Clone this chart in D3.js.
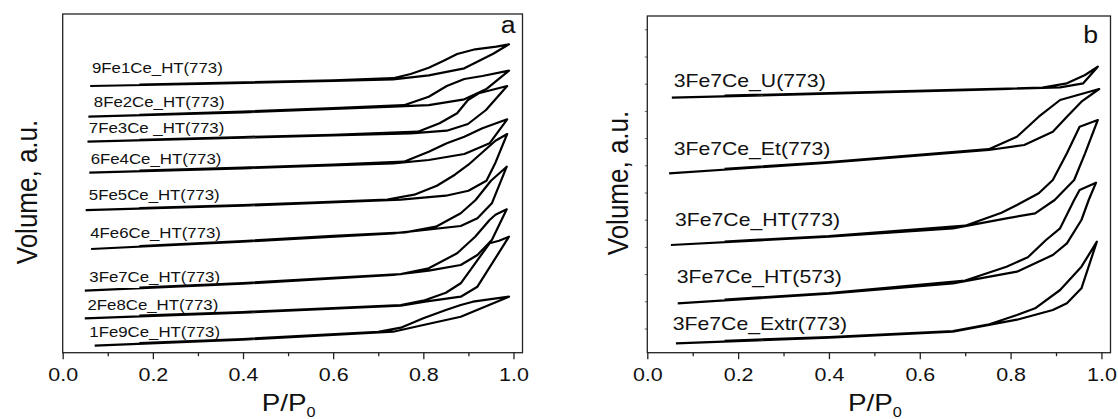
<!DOCTYPE html>
<html>
<head>
<meta charset="utf-8">
<script src="https://cdn.jsdelivr.net/npm/d3@7"></script>
<style>
  html, body { margin: 0; padding: 0; background: #fff; }
  svg { display: block; }
  text { font-family: "Liberation Sans", Arial, sans-serif; fill: #111; }
</style>
</head>
<body>
<div id="root"></div>
<script>
// ---- data: [P/P0, volume (a.u.)] ; adsorption branch then desorption branch
const namesA = ['9Fe1Ce_HT(773)', '8Fe2Ce_HT(773)', '7Fe3Ce _HT(773)', '6Fe4Ce_HT(773)', '5Fe5Ce_HT(773)',
                '4Fe6Ce_HT(773)', '3Fe7Ce_HT(773)', '2Fe8Ce_HT(773)', '1Fe9Ce_HT(773)']

const fe9Ads = [[0.061,266.7],[0.30,268.7],[0.60,271.7],[0.733,273.4],[0.812,277.4],[0.891,284.4],[0.955,299],[0.990,308.4]]
const fe9Des = [[0.962,306],[0.915,303.4],[0.875,298.7],[0.844,291.7],[0.812,285],[0.772,278.7],[0.733,274.5],[0.60,272.4],[0.30,269.4],[0.17,268.2]]
const fe8Ads = [[0.057,236],[0.40,240.4],[0.733,246],[0.812,247.5],[0.891,253.4],[0.939,263.4],[0.990,282]]
const fe8Des = [[0.931,276.7],[0.891,273.7],[0.852,266.7],[0.812,256],[0.757,247.5],[0.60,244.6],[0.40,241.1],[0.17,237.9]]
const fe7Ads = [[0.055,211],[0.40,215],[0.772,219.4],[0.852,222],[0.899,228.7],[0.939,242.7],[0.986,266.7]]
const fe7Des = [[0.923,259.4],[0.899,252.7],[0.875,239.4],[0.836,229.4],[0.788,221],[0.60,217.9],[0.40,215.7],[0.17,212.8]]
const fe6Ads = [[0.059,180],[0.40,184.4],[0.733,189.4],[0.812,192.7],[0.891,198.7],[0.947,209.4],[0.986,233.4]]
const fe6Des = [[0.931,224.4],[0.891,216],[0.852,209.4],[0.812,201],[0.757,191],[0.60,188],[0.40,185.1],[0.17,182.1]]
const fe5Ads = [[0.051,142.5],[0.40,147],[0.75,153],[0.85,157],[0.90,162],[0.94,172],[0.96,190],[0.986,218.7]]
const fe5Des = [[0.96,212],[0.93,200],[0.90,188],[0.87,178],[0.83,167],[0.78,158],[0.72,153.2],[0.55,150.2],[0.40,147.7],[0.17,144.7]]
const fe4Ads = [[0.063,103.7],[0.40,111],[0.733,119.4],[0.883,126.7],[0.920,134.4],[0.952,149.4],[0.985,186]]
const fe4Des = [[0.95,172],[0.916,152.7],[0.883,139.4],[0.828,126],[0.76,120.4],[0.60,116.8],[0.40,111.7],[0.17,106.6]]
const fe3Ads = [[0.049,62],[0.40,69],[0.733,77.7],[0.812,82],[0.883,87.7],[0.92,97.7],[0.952,112.7],[0.985,143.4]]
const fe3Des = [[0.96,138],[0.947,132.7],[0.915,116],[0.875,99.4],[0.812,84.4],[0.75,78.5],[0.60,74.9],[0.40,69.7],[0.17,65.1]]
const fe2Ads = [[0.049,34.4],[0.40,40],[0.75,47],[0.804,51],[0.883,56],[0.92,66],[0.99,116]]
const fe2Des = [[0.968,112],[0.947,109.4],[0.915,89.4],[0.883,69.4],[0.85,60],[0.80,52],[0.75,47.7],[0.40,40.7],[0.17,37]]
const fe1Ads = [[0.071,7],[0.40,13],[0.733,21],[0.80,27.7],[0.883,36],[0.99,56]]
const fe1Des = [[0.95,53.5],[0.91,51],[0.883,47.7],[0.85,42.7],[0.80,34.4],[0.75,25],[0.70,20.9],[0.40,13.7],[0.17,9.6]]

const namesB = ['3Fe7Ce_U(773)', '3Fe7Ce_Et(773)', '3Fe7Ce_HT(773)', '3Fe7Ce_HT(573)', '3Fe7Ce_Extr(773)']

const uAds = [[0.054,255],[0.40,259],[0.70,262.5],[0.909,265.4],[0.960,269.4],[0.992,286]]
const uDes = [[0.964,277.7],[0.924,269.4],[0.87,265],[0.70,263.2],[0.40,259.7],[0.17,257]]
const etAds = [[0.048,179.4],[0.40,190],[0.752,202.7],[0.83,207.7],[0.893,221],[0.924,236],[0.956,251],[0.995,263.7]]
const etDes = [[0.948,257.7],[0.909,252.7],[0.862,236],[0.814,216],[0.752,203.5],[0.40,190.7],[0.17,183.8]]
const ht773Ads = [[0.052,107.7],[0.40,116],[0.673,124.4],[0.791,134.4],[0.854,139.4],[0.897,152.7],[0.94,172.7],[0.964,199.4],[0.992,232.7]]
const ht773Des = [[0.952,226],[0.924,199.4],[0.893,172.7],[0.862,159.4],[0.814,147.7],[0.78,140],[0.70,127],[0.40,116.7],[0.17,111.2]]
const ht573Ads = [[0.067,49.4],[0.40,59],[0.673,69.4],[0.814,81],[0.893,97.7],[0.924,109.4],[0.956,132.7],[0.972,152.7],[0.988,170]]
const ht573Des = [[0.952,162.7],[0.94,152.7],[0.909,124.4],[0.878,112.7],[0.838,95.4],[0.791,86],[0.70,72.2],[0.40,59.7],[0.17,53.1]]
const extrAds = [[0.063,9.4],[0.40,15],[0.673,21],[0.814,33],[0.893,42.7],[0.924,49.4],[0.956,64.4],[0.99,111]]
const extrDes = [[0.956,86],[0.909,62.7],[0.854,44.4],[0.814,37.7],[0.75,28],[0.673,21.5],[0.40,15.7],[0.17,11.9]]

const xMajor = [0, 0.2, 0.4, 0.6, 0.8, 1.0]
const xMinor = [0.1, 0.3, 0.5, 0.7, 0.9]
const yTicksB = [24.2, 51.4, 78.6, 105.8, 133, 160.2, 187.4, 214.6, 241.8, 269, 296.2, 323.4]

// label anchors in data units (P/P0, volume)
const labelPosA = [[0.065,279.7],[0.069,245.7],[0.058,219.4],[0.062,188.4],[0.058,152.7],[0.061,115],[0.059,71],[0.055,42.7],[0.059,15.4]]
const labelPosB = [[0.058,265.4],[0.058,197.7],[0.061,126.7],[0.065,69.4],[0.056,22.7]]

const seriesA = [[fe9Ads,fe9Des],[fe8Ads,fe8Des],[fe7Ads,fe7Des],[fe6Ads,fe6Des],[fe5Ads,fe5Des],
                 [fe4Ads,fe4Des],[fe3Ads,fe3Des],[fe2Ads,fe2Des],[fe1Ads,fe1Des]]
const seriesB = [[uAds,uDes],[etAds,etDes],[ht773Ads,ht773Des],[ht573Ads,ht573Des],[extrAds,extrDes]]

const W = 1118, H = 419
const SX = 1.16  // glyphs in the figure are a bit wide

document.getElementById('root').innerHTML = `<svg width=${W} height=${H}></svg>`
let svg = d3.select('svg')

function panel(cfg) {
  let x = d3.scaleLinear().domain([0, 1.02]).range([cfg.left, cfg.right])
  let y = d3.scaleLinear().domain([0, cfg.bottom - cfg.top]).range([cfg.bottom, cfg.top])
  let g = svg.append('g')

  // minor x ticks
  g.append('g')
   .attr('transform', `translate(0,${cfg.bottom})`)
   .call(d3.axisBottom(x).tickValues(xMinor).tickSize(3.5).tickFormat(''))
   .call(a => a.select('.domain').remove())
  // major x ticks
  let ax = g.append('g')
   .attr('transform', `translate(0,${cfg.bottom})`)
   .call(d3.axisBottom(x).tickValues(xMajor).tickSize(6.5).tickFormat(d3.format('.1f')))
   .call(a => a.select('.domain').remove())
  ax.selectAll('.tick text')
    .attr('y', 28).attr('dy', null)
    .attr('transform', `scale(${SX},1)`)
    .style('font-family', '"Liberation Sans", Arial, sans-serif')
    .style('font-size', '18.5px').attr('fill', '#111')
  g.selectAll('.tick line').attr('stroke', '#222').attr('stroke-width', 1.3)

  if (cfg.yTicks) {
    g.append('g')
     .attr('transform', `translate(${cfg.left},0)`)
     .call(d3.axisLeft(y).tickValues(cfg.yTicks).tickSize(2.5).tickFormat(''))
     .call(a => a.select('.domain').remove())
     .selectAll('line').attr('stroke', '#666').attr('stroke-width', 1)
  }

  let line = d3.line().x(d => x(d[0])).y(d => y(d[1]))
  g.selectAll('path.iso')
   .data(cfg.series).enter()
   .append('path')
   .attr('class', 'iso')
   .attr('d', d => line(d[0].concat(d[1])))
   .attr('fill', 'none')
   .attr('stroke', '#000')
   .attr('stroke-width', 2.2)
   .attr('stroke-linejoin', 'round')

  g.selectAll('g.lab')
   .data(cfg.names).enter()
   .append('g')
   .attr('class', 'lab')
   .attr('transform', (d, i) => `translate(${x(cfg.labelPos[i][0])},${y(cfg.labelPos[i][1])}) scale(${SX},1)`)
   .append('text')
   .style('font-size', cfg.labelSize + 'px')
   .text(d => d)

  // frame
  g.append('rect')
   .attr('x', cfg.left).attr('y', cfg.top)
   .attr('width', cfg.right - cfg.left).attr('height', cfg.bottom - cfg.top)
   .attr('fill', 'none').attr('stroke', '#222').attr('stroke-width', 1.3)

  // panel letter
  g.append('g')
   .attr('transform', `translate(${cfg.letterX},${cfg.letterY}) scale(${SX},1)`)
   .append('text').attr('text-anchor', 'end')
   .style('font-size', '23px').text(cfg.letter)

  // x title
  let xt = g.append('g')
   .attr('transform', `translate(${(cfg.left + cfg.right) / 2 - 4},410.5) scale(${SX},1)`)
   .append('text').attr('text-anchor', 'middle').style('font-size', '24px')
  xt.append('tspan').text('P/P')
  xt.append('tspan').attr('dy', 6.5).style('font-size', '14px').text('0')

  // y title
  g.append('g')
   .attr('transform', `translate(${cfg.yTitleX},${cfg.yTitleY}) rotate(-90) scale(1,${SX})`)
   .append('text').attr('text-anchor', 'middle').style('font-size', '26px')
   .text('Volume, a.u.')
}

panel({left: 62.7, right: 522.5, top: 14, bottom: 352.7, series: seriesA, names: namesA,
       labelPos: labelPosA, labelSize: 14.5, letter: 'a', letterX: 515.5, letterY: 33.3,
       yTitleX: 37, yTitleY: 192})
panel({left: 647.3, right: 1110.5, top: 16, bottom: 352.7, series: seriesB, names: namesB,
       labelPos: labelPosB, labelSize: 18.3, letter: 'b', letterX: 1098, letterY: 42.7,
       yTitleX: 628, yTitleY: 183, yTicks: yTicksB})
</script>
</body>
</html>
